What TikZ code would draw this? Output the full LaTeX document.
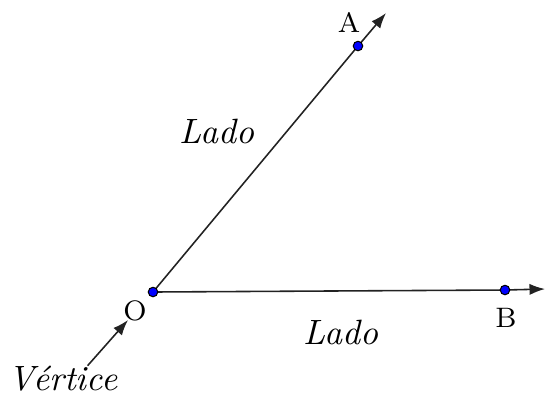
\documentclass[tikz,border=0pt]{standalone}
\usepackage{tikz}
\usetikzlibrary{arrows.meta, backgrounds}
\definecolor{ptBlue}{HTML}{0000FF}
\definecolor{rayGrey}{HTML}{222222}

\begin{document}
\begin{tikzpicture}[
  x=0.01cm, y=-0.01cm,
  pt/.style={circle, draw=black, fill=ptBlue, line width=0.3pt,
             inner sep=0pt, minimum size=2.7pt},
  lbl/.style={font=\footnotesize, inner sep=1pt},
  side/.style={font=\normalsize\itshape, inner sep=1pt},
  ar/.style={-{Latex[length=4.4pt, width=3.2pt]}, draw=rayGrey, line width=0.45pt},
]
\useasboundingbox (0,0) rectangle (545,396);
\node[pt] (O) at (153,292) {};
\node[pt] (A) at (358,46) {};
\node[pt] (B) at (505,290) {};
\coordinate (Aend) at (386,13);
\coordinate (Bend) at (545,289);

\node[lbl] (Olbl) at (135,311) {O};
\node[lbl] (Albl) at (349,22) {A};
\node[lbl] (Blbl) at (506,318) {B};
\node[side] (lado1) at (217,131) {Lado};
\node[side] (lado2) at (341,332) {Lado};
\node[side] (vert) at (63,379) {Vértice};
\coordinate (vtip) at (128,320);

\begin{scope}[on background layer]
  \draw[ar] (O.center) -- (A.center) -- (Aend);
  \draw[ar] (O.center) -- (B.center) -- (Bend);
\end{scope}
\draw[ar] ([xshift=7pt, yshift=-1pt]vert.north) -- (vtip);
\end{tikzpicture}
\end{document}
